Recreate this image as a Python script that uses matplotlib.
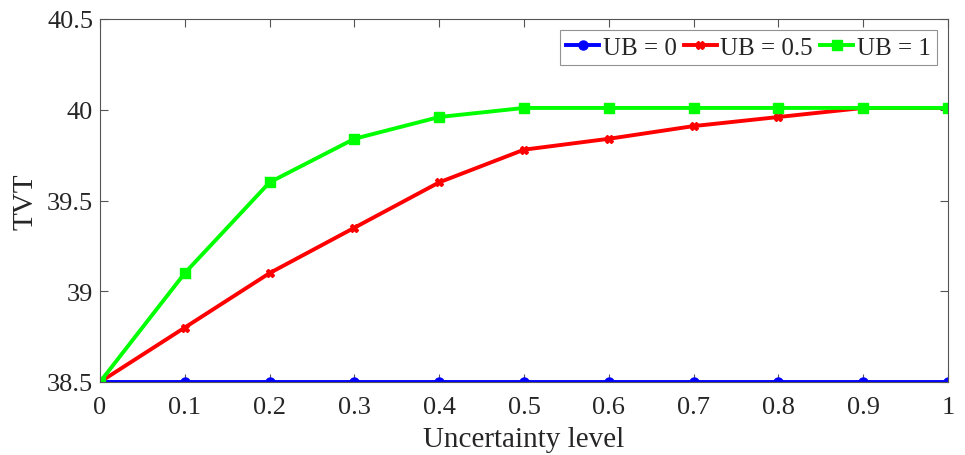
import matplotlib.pyplot as plt

plt.rcParams['font.family'] = ['Liberation Serif', 'DejaVu Serif']

levels = [0, 0.1, 0.2, 0.3, 0.4, 0.5, 0.6, 0.7, 0.8, 0.9, 1.0]
tvt_ub0 = [38.5] * 11
tvt_ub05 = [38.5, 38.8, 39.1, 39.35, 39.6, 39.78, 39.84, 39.91, 39.96, 40.01, 40.01]
tvt_ub1 = [38.5, 39.1, 39.6, 39.84, 39.96, 40.01, 40.01, 40.01, 40.01, 40.01, 40.01]

fig = plt.figure(figsize=(9.65, 4.56), dpi=100)
ax = fig.add_axes([100 / 965, 1 - 383 / 456, 848 / 965, 363 / 456])

ax.plot(levels, tvt_ub0, color='#0000ff', lw=2.8, marker='o', ms=6.5, label='UB = 0')
ax.plot(levels, tvt_ub05, color='#ff0000', lw=2.8, marker='X', ms=6, label='UB = 0.5')
ax.plot(levels, tvt_ub1, color='#00ff00', lw=2.8, marker='s', ms=6.5, label='UB = 1')

ax.set_xlim(0, 1)
ax.set_ylim(38.5, 40.5)
ax.set_xticks(levels)
ax.set_xticklabels(['0', '0.1', '0.2', '0.3', '0.4', '0.5', '0.6', '0.7', '0.8', '0.9', '1'])
ax.set_yticks([38.5, 39, 39.5, 40, 40.5])
ax.set_yticklabels(['38.5', '39', '39.5', '40', '40.5'])
ax.tick_params(direction='in', top=True, right=True, labelsize=19, length=6,
               color='#555555', labelcolor='#262626')
ax.tick_params(axis='x', pad=10)
ax.tick_params(axis='y', pad=5)
for s in ax.spines.values():
    s.set_color('#555555')
    s.set_linewidth(0.8)

ax.set_xlabel('Uncertainty level', fontsize=21, labelpad=6, color='#262626')
ax.set_ylabel('TVT', fontsize=21, labelpad=6, color='#262626')

leg = ax.legend(loc='upper right', ncol=3, fontsize=18, frameon=True, fancybox=False,
                edgecolor='#777777', handlelength=1.3, handletextpad=0.15,
                columnspacing=0.3, borderpad=0.25, borderaxespad=0.45)
leg.get_frame().set_linewidth(0.8)
for t in leg.get_texts():
    t.set_color('#262626')

plt.savefig('out.png', dpi=100)
